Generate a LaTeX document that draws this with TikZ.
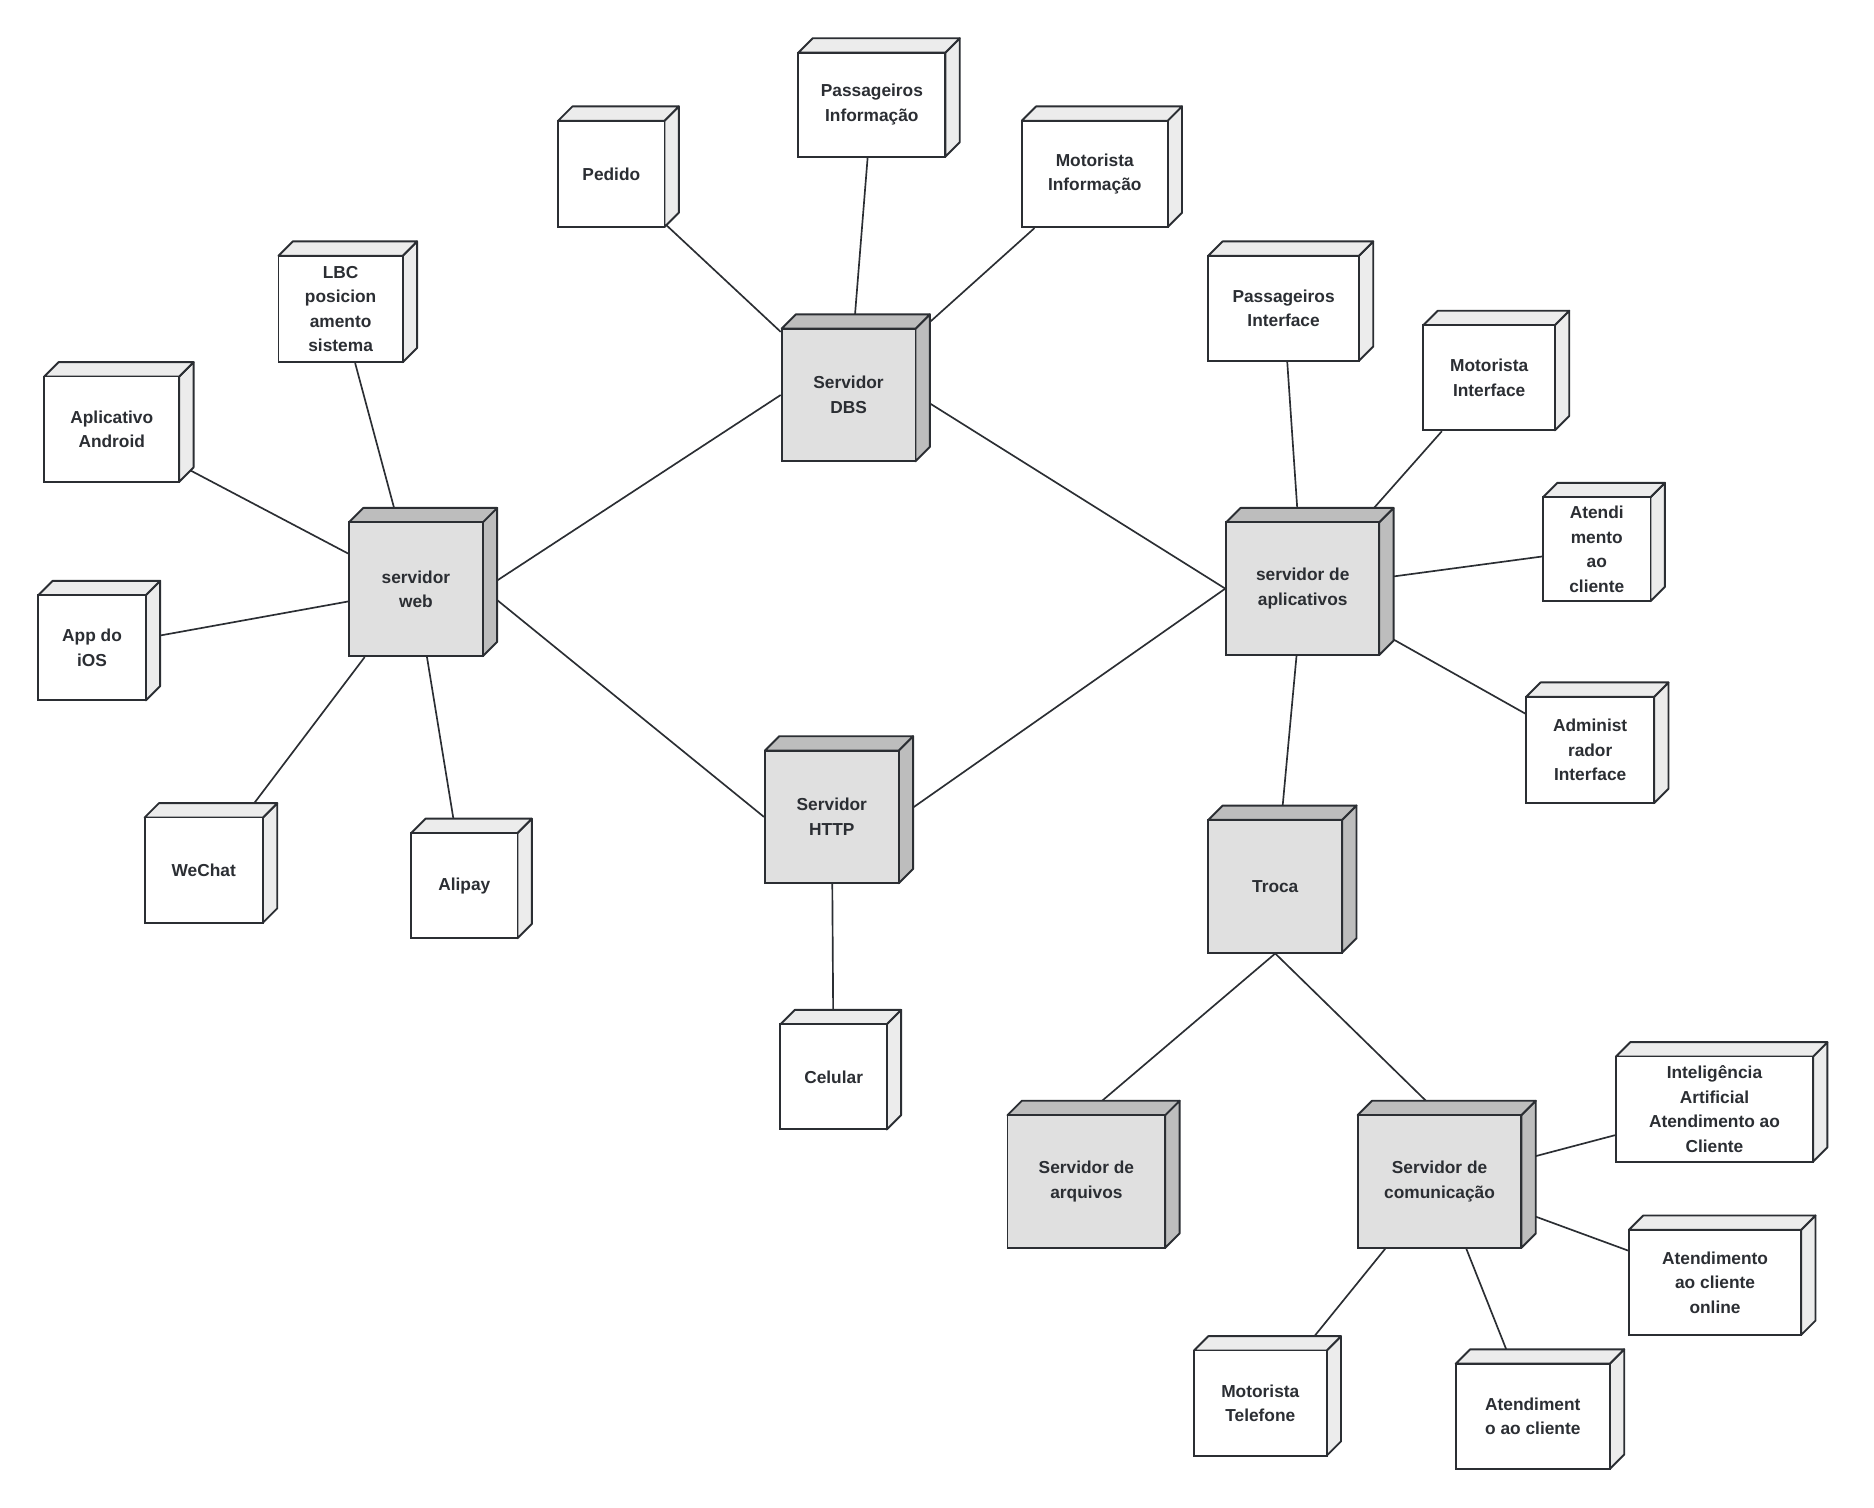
\documentclass[tikz,border=0pt]{standalone}
\usepackage{fontspec}
\setmainfont{Liberation Sans}
\pgfdeclarelayer{bg}
\pgfsetlayers{bg,main}
\definecolor{ln}{HTML}{2B2E33}
\definecolor{gf}{HTML}{E0E0E0}
\definecolor{gt}{HTML}{CBCBCB}
\definecolor{gs}{HTML}{BDBDBD}
\definecolor{wt}{HTML}{ECECEC}
\newcommand\cube[8]{%
 \fill[#7,draw=ln,line width=1.6pt,line join=round] (#4,#3)--({#4+12},{#3-12})--({#4+12},{#5-12})--(#4,#5)--cycle;
 \fill[#7,draw=ln,line width=1.6pt,line join=round] (#2,#3)--({#2+12},{#3-12})--({#4+12},{#3-12})--(#4,#3)--cycle;
 \node[box,fill=#6,minimum width={(#4-#2)*1pt},minimum height={(#5-#3)*1pt}] (#1) at ({(#2+#4)/2},{(#3+#5)/2}) {#8};}
\begin{document}
\begin{tikzpicture}[x=1pt,y=-1pt,
 box/.style={draw=ln,line width=1.6pt,inner sep=0pt,align=center,font=\fontsize{14.5}{20.5}\selectfont\bfseries,text=ln},
 cn/.style={draw=ln,line width=1.4pt}]
\useasboundingbox (0,0) rectangle (1568,1261);
\cube{dbs}{654}{275}{766}{386}{gf}{gs}{Servidor\\DBS}
\cube{web}{292}{437}{404}{549}{gf}{gs}{servidor\\web}
\cube{http}{640}{628}{752}{739}{gf}{gs}{Servidor\\HTTP}
\cube{app}{1026}{437}{1154}{548}{gf}{gs}{servidor de\\aplicativos}
\cube{troca}{1011}{686}{1123}{797}{gf}{gs}{Troca}
\cube{arq}{843}{933}{975}{1044}{gf}{gs}{Servidor de\\arquivos}
\cube{com}{1136}{933}{1273}{1044}{gf}{gs}{Servidor de\\comunicação}
\cube{ped}{467}{101}{556}{190}{white}{wt}{Pedido}
\cube{pinf}{668}{44}{791}{131}{white}{wt}{Passageiros\\Informação}
\cube{minf}{855}{101}{977}{190}{white}{wt}{Motorista\\Informação}
\cube{lbc}{233}{214}{337}{303}{white}{wt}{LBC\\posicion\\amento\\sistema}
\cube{and}{37}{315}{150}{403}{white}{wt}{Aplicativo\\Android}
\cube{ios}{32}{498}{122}{586}{white}{wt}{App do\\iOS}
\cube{wec}{121}{684}{220}{772}{white}{wt}{WeChat}
\cube{ali}{344}{697}{433}{785}{white}{wt}{Alipay}
\cube{cel}{653}{857}{742}{945}{white}{wt}{Celular}
\cube{pint}{1011}{214}{1137}{302}{white}{wt}{Passageiros\\Interface}
\cube{mint}{1191}{272}{1301}{360}{white}{wt}{Motorista\\Interface}
\cube{at1}{1291}{416}{1381}{503}{white}{wt}{Atendi\\mento\\ao\\cliente}
\cube{adm}{1277}{583}{1384}{672}{white}{wt}{Administ\\rador\\Interface}
\cube{ia}{1352}{884}{1517}{972}{white}{wt}{Inteligência\\Artificial\\Atendimento ao\\Cliente}
\cube{onl}{1363}{1029}{1507}{1117}{white}{wt}{Atendimento\\ao cliente\\online}
\cube{mtel}{999}{1130}{1110}{1218}{white}{wt}{Motorista\\Telefone}
\cube{at2}{1218}{1141}{1347}{1229}{white}{wt}{Atendiment\\o ao cliente}
\begin{pgfonlayer}{bg}
\draw[cn] (dbs)--(ped); \draw[cn] (dbs)--(pinf); \draw[cn] (dbs)--(minf);
\draw[cn] (dbs.west)--(web.east); \draw[cn] (dbs.east)--(app.west);
\draw[cn] (web.east)--(http.west); \draw[cn] (http.east)--(app.west);
\draw[cn] (http)--(cel);
\draw[cn] (web)--(lbc); \draw[cn] (web)--(and); \draw[cn] (web)--(ios);
\draw[cn] (web)--(wec); \draw[cn] (web)--(ali);
\draw[cn] (app)--(pint); \draw[cn] (app)--(mint); \draw[cn] (app)--(at1);
\draw[cn] (app)--(adm); \draw[cn] (app)--(troca);
\draw[cn] (troca.south)--(arq.north); \draw[cn] (troca.south)--(com.north);
\draw[cn] (com)--(ia); \draw[cn] (com)--(onl); \draw[cn] (com)--(mtel); \draw[cn] (com)--(at2);
\end{pgfonlayer}
\end{tikzpicture}
\end{document}
